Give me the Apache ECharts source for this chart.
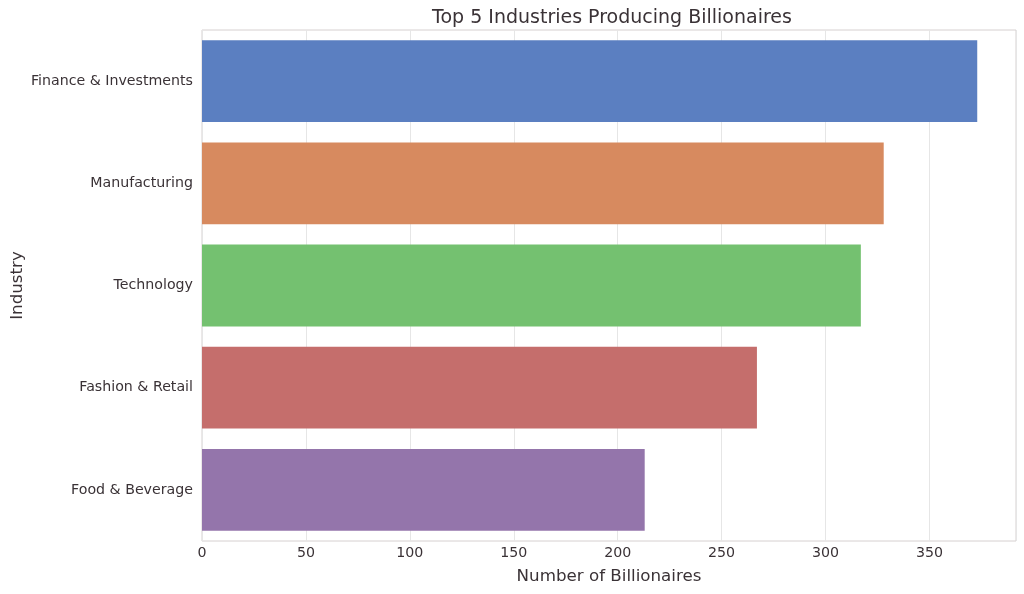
<!DOCTYPE html>
<html><head><meta charset="utf-8">
<script src="https://cdn.jsdelivr.net/npm/echarts@6/dist/echarts.min.js"></script>
<style>html,body{margin:0;padding:0;background:#fff}#c{width:1024px;height:594px}</style>
</head><body><div id="c"></div>
<script>
const categories = ["Finance & Investments", "Manufacturing", "Technology", "Fashion & Retail", "Food & Beverage"];
const values = [373, 328, 317, 267, 213];
const colors = ["#5b7fc1", "#d78a5f", "#74c170", "#c56e6c", "#9475ab"];
const xTicks = [0, 50, 100, 150, 200, 250, 300, 350];
const font = "DejaVu Sans";
const txt = "#3a3236";
const chart = echarts.init(document.getElementById('c'));
chart.setOption({
  animation: false,
  title: {text: "Top 5 Industries Producing Billionaires", left: 607, top: 4, textAlign: 'center',
    textStyle: {fontFamily: font, fontSize: 19, fontWeight: 'normal', color: txt}},
  grid: {left: 202, right: 8, top: 30, bottom: 53, show: true, borderColor: '#d6d0d0', borderWidth: 1,
    outerBoundsMode: 'none', containLabel: false},
  xAxis: {type: 'value', min: 0, max: 391.65, interval: 50,
    name: "Number of Billionaires", nameLocation: 'middle', nameGap: 27, nameMoveOverlap: false,
    nameTextStyle: {fontFamily: font, fontSize: 16.7, color: txt},
    axisLine: {show: false}, axisTick: {show: false},
    axisLabel: {fontFamily: font, fontSize: 14.2, color: txt, margin: 5,
      formatter: v => xTicks.includes(v) ? String(v) : ''},
    splitLine: {show: true, lineStyle: {color: '#e6e6e6', width: 1}}},
  yAxis: {type: 'category', data: categories, inverse: true,
    name: "Industry", nameLocation: 'middle', nameGap: 176, nameRotate: 90, nameMoveOverlap: false,
    nameTextStyle: {fontFamily: font, fontSize: 16.7, color: txt},
    axisLine: {show: false}, axisTick: {show: false},
    axisLabel: {fontFamily: font, fontSize: 14.2, color: txt, margin: 9},
    splitLine: {show: false}},
  series: [{type: 'bar', barWidth: '80%',
    data: values.map((v, i) => ({value: v, itemStyle: {color: colors[i]}}))}]
});
</script></body></html>
